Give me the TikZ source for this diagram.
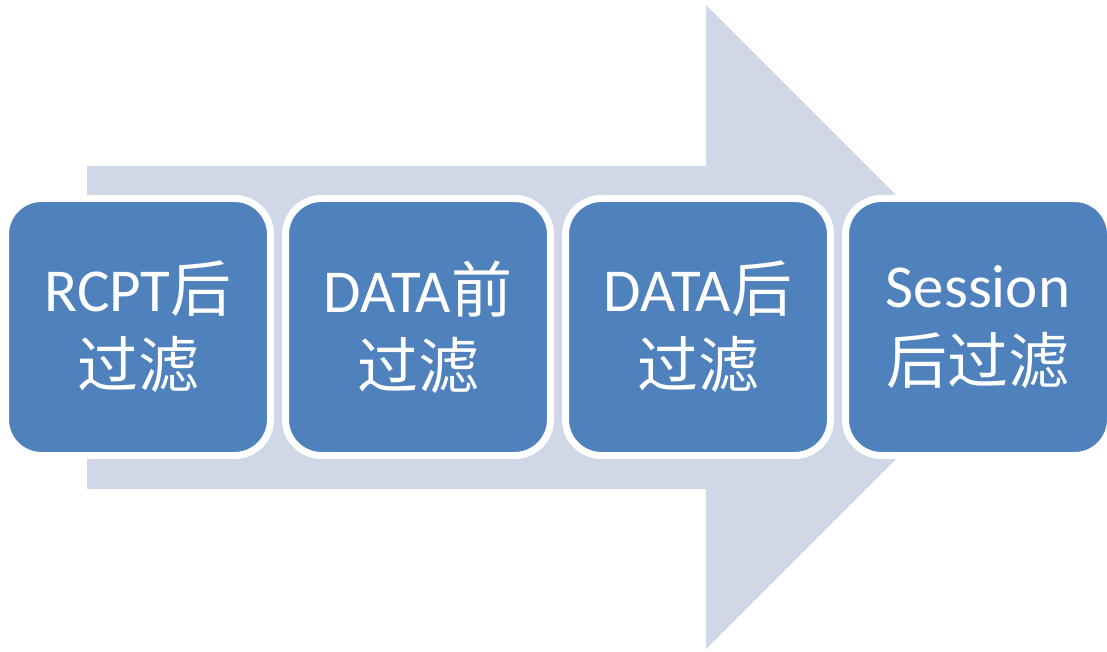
\documentclass[tikz,border=0pt]{standalone}
\usepackage{fontspec}
\setmainfont{Carlito}
\newfontfamily\cjk{Noto Sans CJK SC}
\definecolor{boxblue}{HTML}{4F81BD}
\definecolor{arrowgray}{HTML}{D0D8E8}
\begin{document}
\begin{tikzpicture}[x=1pt,y=-1pt,
  stagebox/.style={draw=white, line width=7pt, fill=boxblue, rounded corners=36pt,
    minimum width=265pt, minimum height=257pt, inner sep=0pt, align=center,
    text=white, font=\fontsize{61}{76}\selectfont}]
\useasboundingbox (0,0) rectangle (1107,652);
\fill[arrowgray] (87,166) -- (706,166) -- (706,5) -- (1028,327) -- (706,649) -- (706,489) -- (87,489) -- cycle;
\node[stagebox] (b1) at (138,327) {RCPT{\cjk 后}\\{\cjk 过滤}};
\node[stagebox] (b2) at (418,327) {DATA{\cjk 前}\\{\cjk 过滤}};
\node[stagebox] (b3) at (698,327) {DATA{\cjk 后}\\{\cjk 过滤}};
\node[stagebox] (b4) at (978,327) {Session\\{\cjk 后过滤}};
\end{tikzpicture}
\end{document}
